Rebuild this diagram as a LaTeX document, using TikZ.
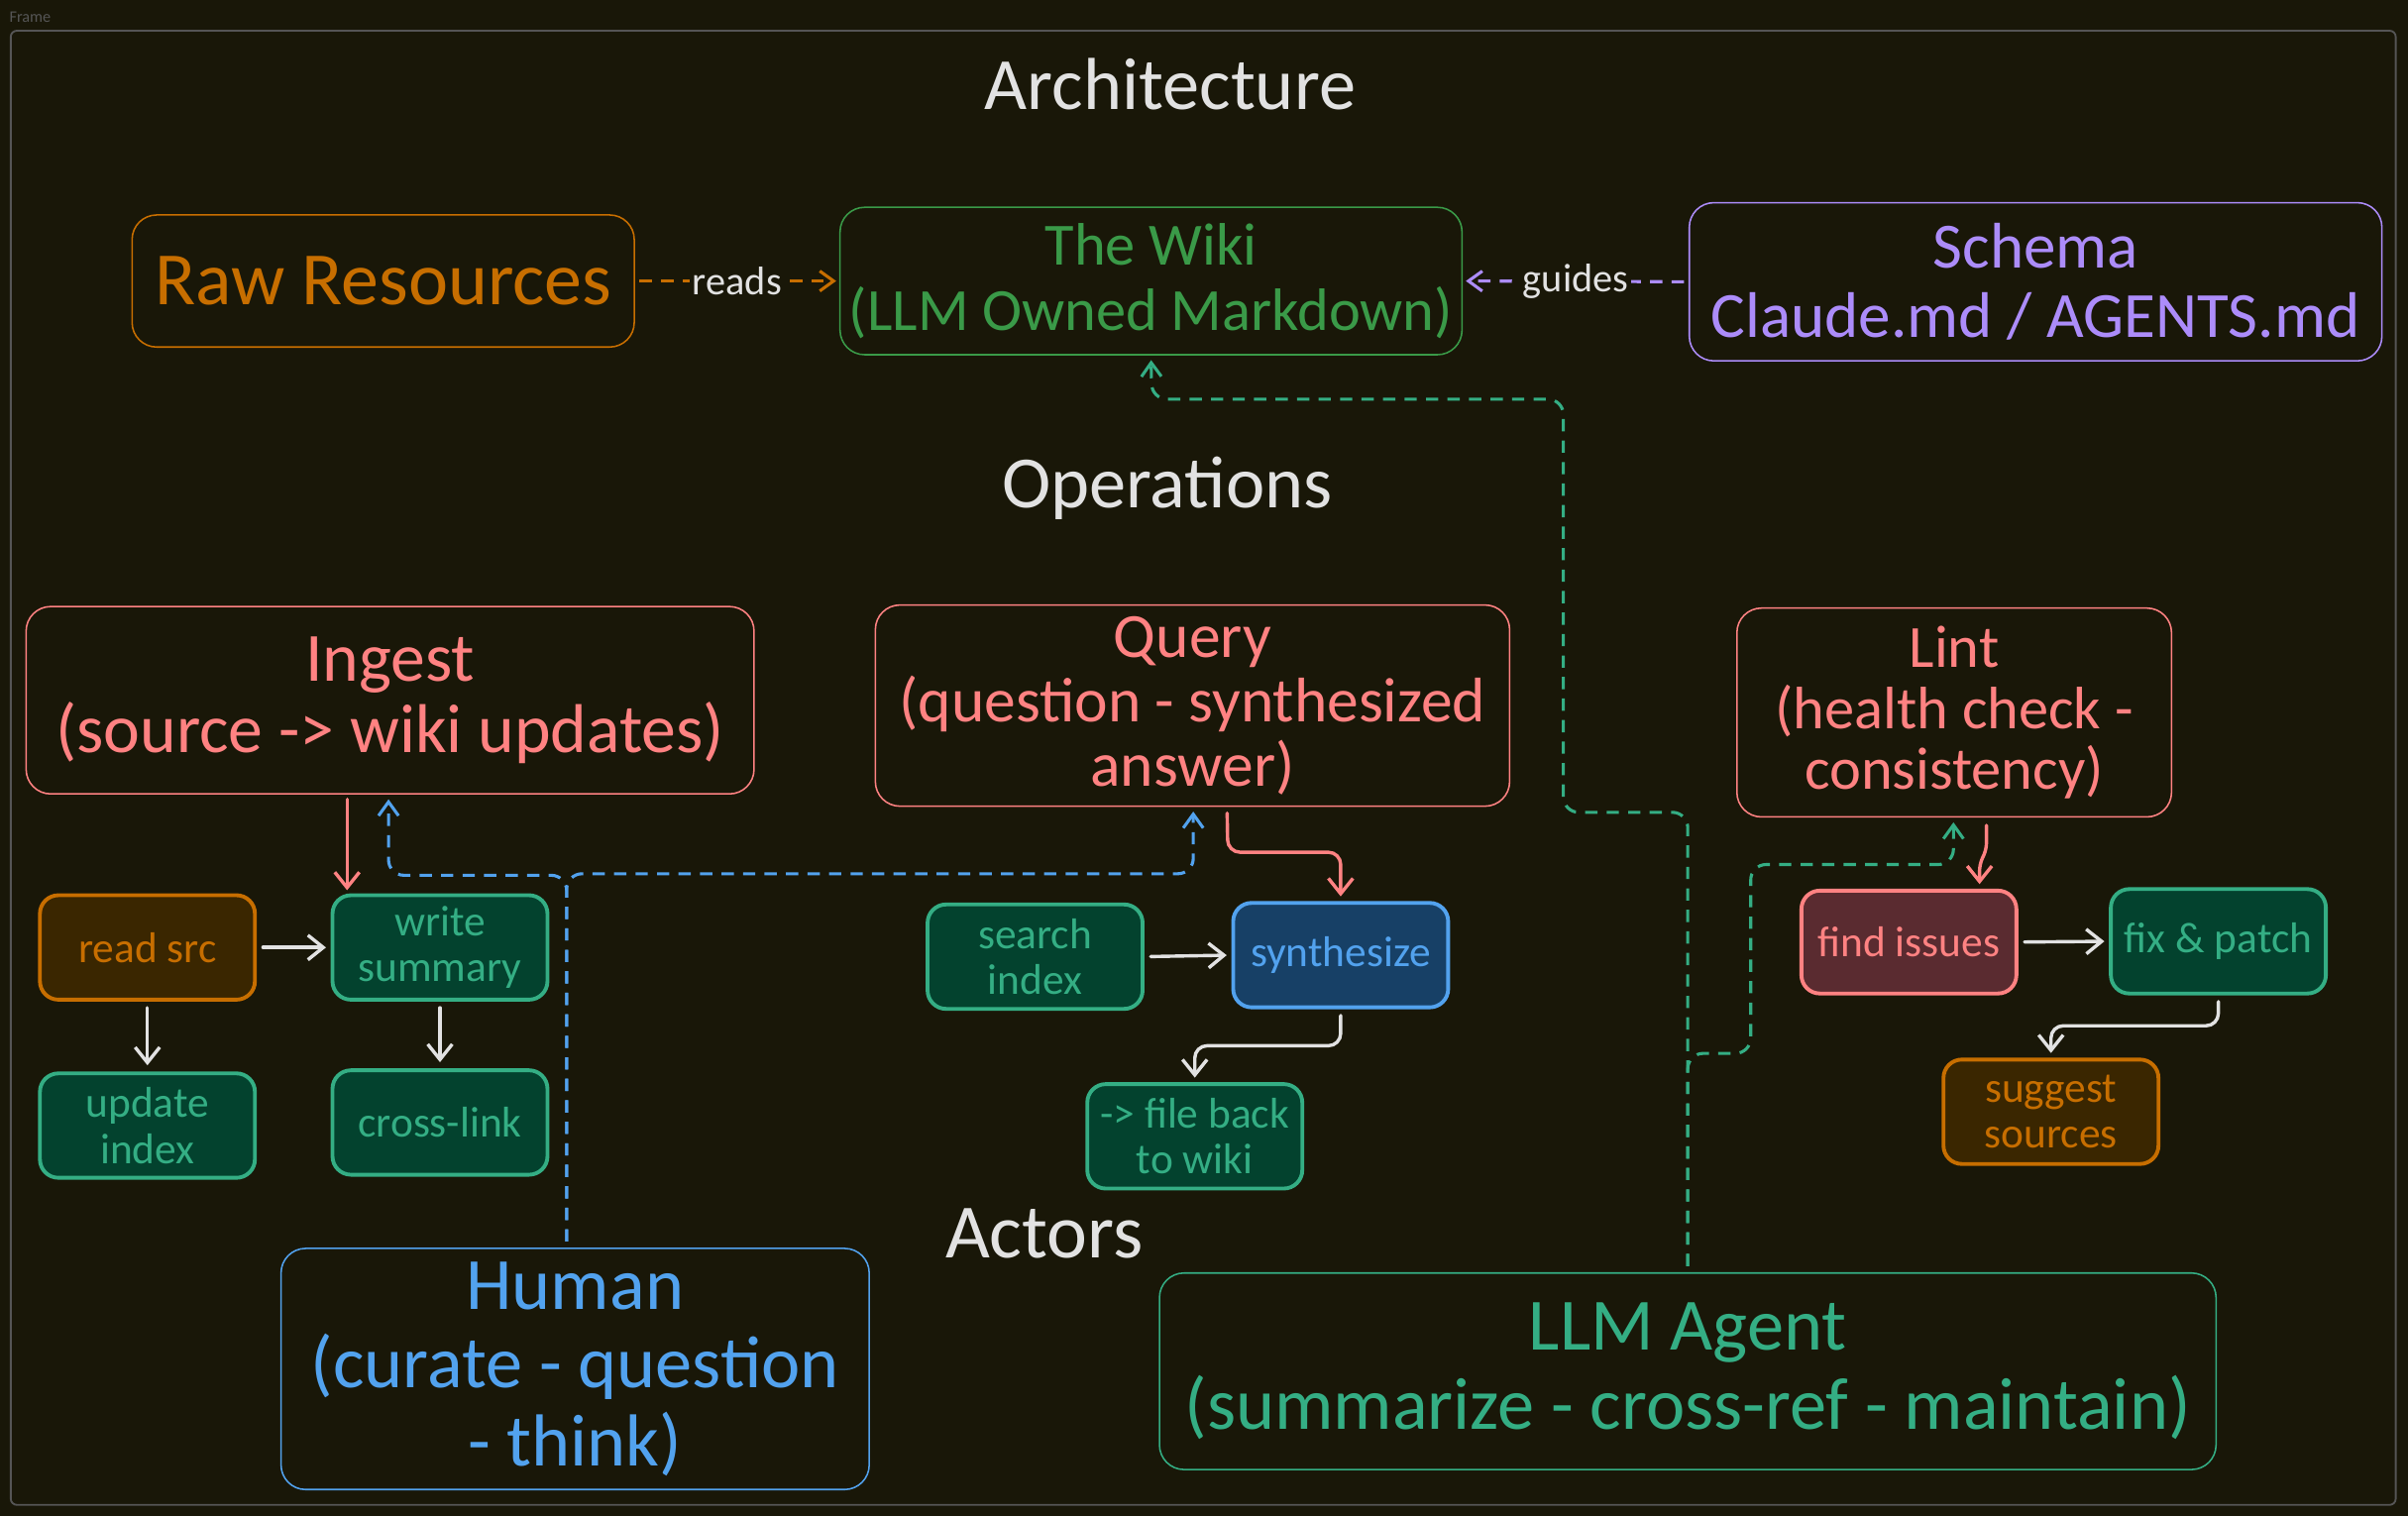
\documentclass[tikz,border=0pt]{standalone}
\usepackage{fontspec}
\setmainfont{Carlito}
\usetikzlibrary{arrows.meta,calc}
\definecolor{bg}{RGB}{25,23,8}
\definecolor{framec}{RGB}{85,85,85}
\definecolor{orng}{RGB}{199,110,0}
\definecolor{wgreen}{RGB}{58,154,72}
\definecolor{purp}{RGB}{172,140,250}
\definecolor{pinkr}{RGB}{255,130,130}
\definecolor{teal}{RGB}{52,174,132}
\definecolor{blu}{RGB}{82,162,238}
\definecolor{whitec}{RGB}{226,226,226}
\definecolor{fgreen}{RGB}{3,66,46}
\definecolor{fbrown}{RGB}{58,38,0}
\definecolor{fblue}{RGB}{23,64,102}
\definecolor{fred}{RGB}{90,43,48}
\tikzset{
  bigbox/.style={draw, rounded corners=16pt, line width=1pt, inner sep=0pt, align=center},
  smallbox/.style={draw, rounded corners=12pt, line width=2.5pt, inner sep=0pt, align=center,
    minimum width=140pt, minimum height=68pt, font=\fontsize{28}{30}\selectfont},
  greenbox/.style={smallbox, draw=teal, fill=fgreen, text=teal},
  brownbox/.style={smallbox, draw=orng, fill=fbrown, text=orng},
  title/.style={text=whitec, font=\fontsize{48}{50}\selectfont},
  arr/.style={line width=2.2pt, line cap=round, -{Straight Barb[length=10pt,width=16pt,line width=2.2pt]}},
  dsh/.style={line width=2pt, dash pattern=on 8pt off 6pt, -{Straight Barb[length=9pt,width=13pt,line width=2pt]}},
  lbl/.style={fill=bg, inner sep=2pt, text=whitec, font=\fontsize{26}{28}\selectfont},
}
\begin{document}
\begin{tikzpicture}[x=1pt,y=-1pt]
\fill[bg] (0,0) rectangle (1568,987);
\useasboundingbox (0,0) rectangle (1568,987);
% frame
\node[text=framec, font=\fontsize{10.5}{11}\selectfont, anchor=west, inner sep=0pt] (framelbl) at (6,11) {Frame};
\draw[framec, line width=1.2pt, rounded corners=4pt] (7,20) rectangle (1560,980);

% titles
\node[title] (tarch) at (762,55) {Architecture};
\node[title] (tops) at (760,318) {Operations};
\node[title, font=\fontsize{50}{52}\selectfont] (tact) at (680,803) {Actors};

% architecture row
\node[bigbox, draw=orng, text=orng, minimum width=327pt, minimum height=86pt,
  font=\fontsize{49}{50}\selectfont] (raw) at (249.5,183) {Raw Resources};
\node[bigbox, draw=wgreen, text=wgreen, minimum width=405pt, minimum height=96pt,
  font=\fontsize{39}{43}\selectfont] (wiki) at (749.5,183) {The Wiki\\(LLM Owned Markdown)};
\node[bigbox, draw=purp, text=purp, minimum width=451pt, minimum height=103pt,
  font=\fontsize{42}{45}\selectfont] (schema) at (1325.5,183.5) {Schema\\Claude.md / AGENTS.md};

\draw[dsh, orng, shorten <=3pt, shorten >=2pt] (raw.east) -- node[lbl] (lreads) {reads} (wiki.west);
\draw[dsh, purp, shorten <=3pt, shorten >=2pt] (schema.west) -- node[lbl] (lguides) {guides} (wiki.east);

% operations
\node[bigbox, draw=pinkr, text=pinkr, minimum width=474pt, minimum height=122pt,
  font=\fontsize{45}{47}\selectfont] (ingest) at (254,456) {Ingest\\(source -> wiki updates)};
\node[bigbox, draw=pinkr, text=pinkr, minimum width=413pt, minimum height=131pt,
  font=\fontsize{41}{42}\selectfont] (query) at (776.5,459.5) {Query\\(question - synthesized\\answer)};
\node[bigbox, draw=pinkr, text=pinkr, minimum width=283pt, minimum height=136pt,
  font=\fontsize{39}{40}\selectfont] (lint) at (1272.5,464) {Lint\\(health check -\\consistency)};

\node[brownbox] (readsrc) at (96,617) {read src};
\node[greenbox] (writesum) at (286.5,617) {write\\summary};
\node[greenbox] (updidx) at (96,733) {update\\index};
\node[greenbox] (xlink) at (286.5,731) {cross-link};
\node[greenbox] (search) at (674,623) {search\\index};
\node[smallbox, draw=blu, fill=fblue, text=blu] (synth) at (873,622) {synthesize};
\node[greenbox] (fileback) at (778,740) {-> file back\\to wiki};
\node[smallbox, draw=pinkr, fill=fred, text=pinkr, minimum height=67pt] (find) at (1243,613.5) {find issues};
\node[greenbox] (fix) at (1444.5,613) {fix \& patch};
\node[brownbox] (suggest) at (1335.5,724) {suggest\\sources};

% actors
\node[bigbox, draw=blu, text=blu, minimum width=383pt, minimum height=157pt,
  font=\fontsize{48}{51}\selectfont] (human) at (374.5,891.5) {Human\\(curate - question\\- think)};
\node[bigbox, draw=teal, text=teal, minimum width=688pt, minimum height=128pt,
  font=\fontsize{48}{52}\selectfont] (llm) at (1099,893) {LLM Agent\\(summarize - cross-ref - maintain)};

% solid connectors
\draw[arr, pinkr, shorten >=2pt, shorten <=3pt] ([xshift=-28pt]ingest.south) -- ([xshift=-60.5pt]writesum.north);
\draw[arr, whitec, shorten >=3pt, shorten <=4pt] (readsrc.east) -- (writesum.west);
\draw[arr, whitec, shorten >=4pt, shorten <=4pt] (readsrc.south) -- (updidx.north);
\draw[arr, whitec, shorten >=4pt, shorten <=4pt] (writesum.south) -- (xlink.north);
\draw[arr, whitec, shorten >=3pt, shorten <=4pt] (search.east) -- (synth.west);
\draw[arr, pinkr, rounded corners=8pt, shorten >=3pt, shorten <=4pt] ([xshift=22.5pt]query.south) -- (799.5,555) -- (873,555) -- (synth.north);
\draw[arr, whitec, rounded corners=8pt, shorten >=3pt, shorten <=4pt] (synth.south) -- (873,681) -- (778,681) -- (fileback.north);
\draw[arr, whitec, shorten >=3pt, shorten <=4pt] (find.east) -- (fix.west);
\draw[arr, whitec, rounded corners=8pt, shorten >=3pt, shorten <=4pt] (fix.south) -- (1444.5,668) -- (1335.5,668) -- (suggest.north);
\draw[arr, pinkr, rounded corners=4pt, shorten >=3pt, shorten <=5pt] ([xshift=21pt]lint.south) -- (1293.5,553) -- (1289,563) -- ([xshift=46pt]find.north);

% dashed connectors
\draw[dsh, blu, rounded corners=10pt, shorten >=3pt, shorten <=4pt] ([xshift=-5.5pt]human.north) -- (369,570) -- (253,570) -- ([xshift=-1pt]ingest.south);
\draw[dsh, blu, rounded corners=10pt, shorten >=3pt, shorten <=4pt] ([xshift=-5.5pt]human.north) -- (369,569) -- (777,569) -- ([xshift=0.5pt]query.south);
\draw[dsh, teal, rounded corners=10pt, shorten >=3pt, shorten <=4pt] (llm.north) -- (1099,529) -- (1018,529) -- (1018,260) -- (750,260) -- (wiki.south);
\draw[dsh, teal, rounded corners=10pt, shorten >=3pt, shorten <=4pt] (llm.north) -- (1099,686) -- (1140,686) -- (1140,563) -- (1272,563) -- ([xshift=-0.5pt]lint.south);
\end{tikzpicture}
\end{document}
